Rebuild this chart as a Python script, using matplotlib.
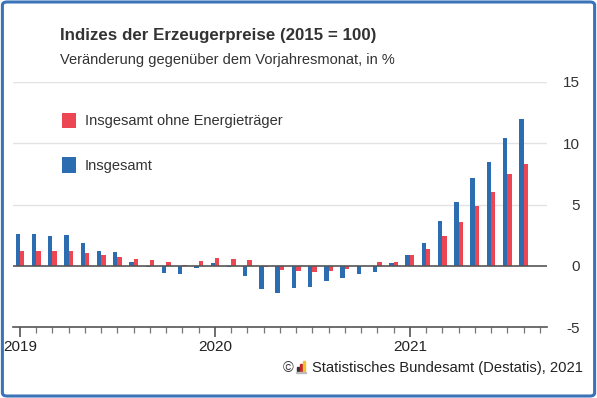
import numpy as np
import matplotlib.pyplot as plt
from matplotlib.patches import FancyBboxPatch, Rectangle

plt.rcParams['font.family'] = ['Liberation Sans', 'DejaVu Sans']
plt.rcParams['axes.unicode_minus'] = False

# Veränderung gegenüber Vorjahresmonat in %, Jan 2019 .. Aug 2021
insgesamt = [2.6, 2.6, 2.4, 2.5, 1.9, 1.2, 1.1, 0.3, -0.1, -0.6, -0.7, -0.2,
             0.2, -0.1, -0.8, -1.9, -2.2, -1.8, -1.7, -1.2, -1.0, -0.7, -0.5, 0.2,
             0.9, 1.9, 3.7, 5.2, 7.2, 8.5, 10.4, 12.0]
ohne_energie = [1.2, 1.25, 1.2, 1.25, 1.05, 0.9, 0.7, 0.6, 0.45, 0.3, 0.1, 0.4,
                0.65, 0.6, 0.5, -0.1, -0.35, -0.4, -0.5, -0.4, -0.25, 0.0, 0.35, 0.35,
                0.9, 1.4, 2.4, 3.6, 4.9, 6.0, 7.5, 8.3]
jahre = ['2019', '2020', '2021']
blau = '#2c6db2'
rot = '#eb4651'

monate = np.arange(len(insgesamt))
w = 0.27

fig = plt.figure(figsize=(5.97, 3.98), dpi=100)
ax = fig.add_axes([0.0218, 0.178, 0.894, 0.616])

b1 = ax.bar(monate - w/2, insgesamt, w, color=blau, label='Insgesamt', zorder=3)
b2 = ax.bar(monate + w/2, ohne_energie, w, color=rot, label='Insgesamt ohne Energieträger', zorder=3)

ax.set_xlim(-0.43, 32.43)
ax.set_ylim(-5, 15)
ax.set_yticks([-5, 0, 5, 10, 15])
ax.yaxis.tick_right()
ax.tick_params(axis='y', length=0, pad=24, labelsize=11, labelcolor='#333333')
for lab in ax.get_yticklabels():
    lab.set_horizontalalignment('right')
for v in [5, 10, 15]:
    ax.axhline(v, color='#e3e3e3', lw=1, zorder=1)
ax.axhline(0, color='#555555', lw=1.2, zorder=4)

ax.set_xticks([0, 12, 24])
ax.set_xticklabels(jahre)
ax.set_xticks(np.arange(0, 33), minor=True)
ax.tick_params(axis='x', which='major', length=7, width=1.2, color='#555555',
               labelsize=11, labelcolor='#222222', pad=2)
ax.tick_params(axis='x', which='minor', length=4.5, width=0.9, color='#777777')

for s in ['top', 'right', 'left']:
    ax.spines[s].set_visible(False)
ax.spines['bottom'].set_color('#555555')
ax.spines['bottom'].set_linewidth(1.2)

fig.text(0.1, 0.912, 'Indizes der Erzeugerpreise (2015 = 100)', fontsize=12.2,
         fontweight='bold', color='#333333', va='center')
fig.text(0.1, 0.849, 'Veränderung gegenüber dem Vorjahresmonat, in %', fontsize=10.5,
         color='#333333', va='center')

fig.legend(handles=[b2, b1], loc='upper left', bbox_to_anchor=(0.082, 0.75),
           frameon=False, fontsize=10.5, handlelength=0.95, handleheight=1.25,
           handletextpad=0.6, labelspacing=2.0, labelcolor='#333333')

# Quelle
fig.text(0.474, 0.075, '©', fontsize=10.5, color='#333333', va='center')
for x0, h, c in [(0.4975, 0.012, '#333333'), (0.5025, 0.018, '#c0282e'), (0.5075, 0.025, '#f2c12e')]:
    fig.patches.append(Rectangle((x0, 0.067), 0.0035, h, transform=fig.transFigure,
                                 color=c, figure=fig))
fig.patches.append(Rectangle((0.496, 0.062), 0.016, 0.004, transform=fig.transFigure,
                             color='#bbbbbb', figure=fig))
fig.text(0.523, 0.075, 'Statistisches Bundesamt (Destatis), 2021', fontsize=10.6,
         color='#222222', va='center')

# Rahmen
fig.patches.append(FancyBboxPatch((0.004, 0.005), 0.992, 0.99,
                                  boxstyle='round,pad=0,rounding_size=0.008',
                                  transform=fig.transFigure, fill=False,
                                  edgecolor='#3b73b9', lw=2.2, figure=fig))

fig.savefig('out.png', dpi=100)
